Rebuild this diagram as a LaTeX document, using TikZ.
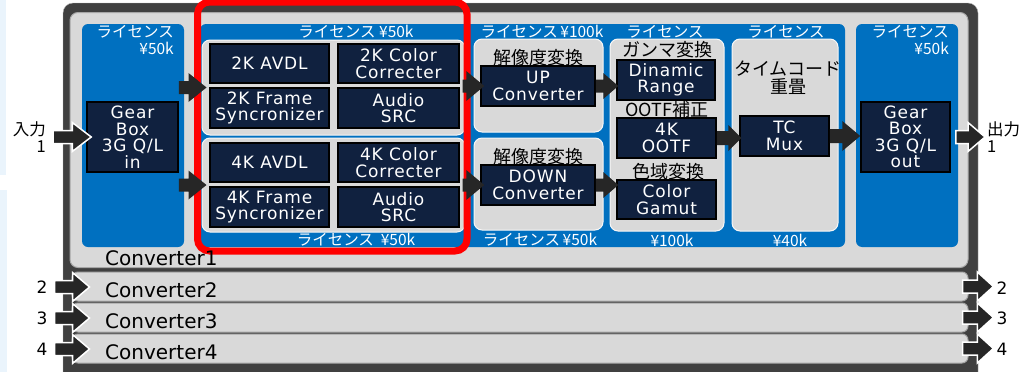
\documentclass[tikz,border=0pt]{standalone}
\usepackage{fontspec}
\setmainfont{DejaVu Sans}
\newfontfamily\boxfont{DejaVu Sans}[LetterSpace=5]
\newfontfamily\jp{Noto Sans CJK JP}
\usetikzlibrary{calc}
\definecolor{framec}{HTML}{404040}
\definecolor{panelc}{HTML}{D9D9D9}
\definecolor{edgec}{HTML}{A6A6A6}
\definecolor{bluec}{HTML}{0070C0}
\definecolor{navyc}{HTML}{10213F}
\definecolor{arrowc}{HTML}{262626}
\definecolor{stripc}{HTML}{EAF4FC}
\tikzset{
  navy/.style={draw=black, line width=1.5pt, fill=navyc, text=white, align=center, inner sep=0pt,
     font=\boxfont\fontsize{17}{16.5}\selectfont},
  grp/.style={fill=panelc, draw=white!80!panelc, line width=1pt, rounded corners=8pt, inner sep=0pt},
  bluep/.style={fill=bluec, rounded corners=6pt, inner sep=0pt},
  lic/.style={text=white, inner sep=0pt, font=\jp\fontsize{15.5}{17}\selectfont},
  plab/.style={inner sep=0pt, align=center, font=\jp\fontsize{18}{18}\selectfont},
  convlab/.style={inner sep=0pt, anchor=west, font=\fontsize{20}{20}\selectfont},
  numlab/.style={inner sep=0pt, font=\fontsize{17}{17}\selectfont},
  bar/.style={fill=panelc, draw=edgec, line width=1pt, rounded corners=6pt, inner sep=0pt},
  blk/.style n args={3}{to path={let \p1=(\tikztostart), \p2=(\tikztotarget) in
     (\x1,{\y1+#1}) -- ({\x2-#3},{\y1+#1}) -- ({\x2-#3},{\y1+#2}) -- (\x2,\y1)
     -- ({\x2-#3},{\y1-#2}) -- ({\x2-#3},{\y1-#1}) -- (\x1,{\y1-#1}) -- cycle}},
  arr/.style={fill=arrowc, draw=none},
  ioarr/.style={fill=arrowc, draw=white, line width=1.5pt, line join=miter},
}
\begin{document}
\begin{tikzpicture}[x=1pt,y=-1pt]
\useasboundingbox (0,0) rectangle (1036,372);
\clip (0,0) rectangle (1036,372);
\fill[stripc] (0,0) rectangle (6,175);
\fill[stripc] (0,190) rectangle (7,372);
% outer frame
\draw[fill=framec, draw=gray!60, rounded corners=10pt] (63,3) rectangle (978,400);
% converter bars
\node[bar, minimum width=896, minimum height=29] (conv2) at (520,286.5) {};
\node[bar, minimum width=896, minimum height=29] (conv3) at (520,317.5) {};
\node[bar, minimum width=896, minimum height=29] (conv4) at (520,348.5) {};
\node[bar, rounded corners=8pt, minimum width=898, minimum height=255] (conv1) at (519,140) {};
% blue panels
\node[bluep, minimum width=102, minimum height=223] (bluein) at (133,135.5) {};
\node[bluep, minimum width=645, minimum height=223] (bluemid) at (522.5,135.5) {};
\node[bluep, minimum width=102, minimum height=223] (blueout) at (907,135.5) {};
% grey groups
\node[grp, minimum width=263, minimum height=95] (g2k) at (333.5,87.5) {};
\node[grp, minimum width=263, minimum height=94] (g4k) at (333.5,185) {};
\node[grp, minimum width=129, minimum height=93] (gup) at (538.5,85.5) {};
\node[grp, minimum width=129, minimum height=92] (gdown) at (538.5,184) {};
\node[grp, minimum width=114, minimum height=192] (ggam) at (667,135) {};
\node[grp, minimum width=106, minimum height=192] (gtc) at (785,135) {};
% navy boxes
\node[navy, minimum width=91, minimum height=70] (gin) at (132.5,137) {Gear\\Box\\3G Q/L\\in};
\node[navy, minimum width=119, minimum height=39] (avdl2) at (269.5,63.5) {2K AVDL};
\node[navy, minimum width=121, minimum height=39] (cc2) at (398.5,63.5) {2K Color\\Correcter};
\node[navy, minimum width=119, minimum height=40] (fs2) at (269.5,108) {2K Frame\\Syncronizer};
\node[navy, minimum width=121, minimum height=40] (src2) at (398.5,108) {Audio\\SRC};
\node[navy, minimum width=119, minimum height=39] (avdl4) at (269.5,162.5) {4K AVDL};
\node[navy, minimum width=121, minimum height=39] (cc4) at (398.5,162.5) {4K Color\\Correcter};
\node[navy, minimum width=119, minimum height=40] (fs4) at (269.5,207) {4K Frame\\Syncronizer};
\node[navy, minimum width=121, minimum height=40] (src4) at (398.5,207) {Audio\\SRC};
\node[navy, minimum width=114, minimum height=40] (up) at (538,86) {UP\\Converter};
\node[navy, minimum width=114, minimum height=40] (down) at (538,185) {DOWN\\Converter};
\node[navy, minimum width=98, minimum height=40] (dr) at (666,80) {Dinamic\\Range};
\node[navy, minimum width=99, minimum height=40] (ootf) at (666.5,138) {4K\\OOTF};
\node[navy, minimum width=99, minimum height=39] (cg) at (666.5,199.5) {Color\\Gamut};
\node[navy, minimum width=89, minimum height=40] (tc) at (784.5,136) {TC\\Mux};
\node[navy, minimum width=89, minimum height=70] (gout) at (905.5,137) {Gear\\Box\\3G Q/L\\out};
% red highlight
\draw[red, line width=7pt, rounded corners=12pt] (197.5,2) rectangle (467,251);
% labels on blue
\node[lic, align=right, anchor=east] (licin) at (174,40.5) {ライセンス\\¥50k};
\node[lic, align=right, anchor=east] (licout) at (949,40.5) {ライセンス\\¥50k};
\node[lic] (lic2kt) at (356,32) {ライセンス ¥50k};
\node[lic] (licupt) at (542,32) {ライセンス\,¥100k};
\node[lic] (licgamt) at (665,32) {ライセンス};
\node[lic] (lictct) at (786,32) {ライセンス};
\node[lic] (lic2kb) at (356,240) {ライセンス\ \ ¥50k};
\node[lic] (licdnb) at (540,240) {ライセンス\,¥50k};
\node[lic] (licgamb) at (672,240) {¥100k};
\node[lic] (lictcb) at (790,240) {¥40k};
% panel labels
\node[plab] (lup) at (538,58) {解像度変換};
\node[plab] (ldown) at (538,157) {解像度変換};
\node[plab] (lgam) at (667,50) {ガンマ変換};
\node[plab] (looft) at (667,110) {OOTF補正};
\node[plab] (lcg) at (668,172) {色域変換};
\node[plab] (ltc) at (788,78) {タイムコード\\重畳};
% converter labels
\node[convlab] (c1lab) at (105,258) {Converter1};
\node[convlab] (c2lab) at (105,290) {Converter2};
\node[convlab] (c3lab) at (105,321) {Converter3};
\node[convlab] (c4lab) at (105,352) {Converter4};
% io labels
\node[inner sep=0pt, align=right, anchor=east, font=\jp\fontsize{16.5}{17}\selectfont] (inlab) at (46,137) {入力\\1};
\node[inner sep=0pt, align=left, anchor=west, font=\jp\fontsize{16.5}{17}\selectfont] (outlab) at (987,137) {出力\\1};
\node[numlab] (n2l) at (42,287) {2};
\node[numlab] (n3l) at (42,318) {3};
\node[numlab] (n4l) at (42,349) {4};
\node[numlab] (n2r) at (1002,288) {2};
\node[numlab] (n3r) at (1002,318) {3};
\node[numlab] (n4r) at (1002,349) {4};
% internal arrows
\draw[arr] (gin.east |- g2k.west) to[blk={6.5}{14.5}{18}] ([xshift=5pt]g2k.west);
\draw[arr] (gin.east |- g4k.west) to[blk={6.5}{14.5}{18}] ([xshift=5pt]g4k.west);
\draw[arr] ([xshift=-3pt]g2k.east |- up.west) to[blk={6.5}{15}{18}] ([xshift=4pt]up.west);
\draw[arr] ([xshift=-3pt]g4k.east |- down.west) to[blk={6.5}{15}{18}] ([xshift=4pt]down.west);
\draw[arr] (up.east) to[blk={6.5}{13}{15}] ([xshift=2pt]dr.west);
\draw[arr] (down.east) to[blk={6.5}{13}{15}] ([xshift=2pt]cg.west);
\draw[arr] (ootf.east) to[blk={7}{13}{13}] ([xshift=2pt]tc.west);
\draw[arr] (tc.east) to[blk={7}{15}{18}] (gout.west);
% io arrows
\draw[ioarr] ([xshift=7pt]inlab.east) to[blk={6.5}{14.5}{19}] ([xshift=5pt]gin.west);
\draw[ioarr] ([xshift=5pt]gout.east) to[blk={6.5}{14.5}{17}] ([xshift=-2pt]outlab.west);
\draw[ioarr] ([xshift=7pt]n2l.east) to[blk={6.5}{14.5}{17}] ([xshift=18pt]conv2.west);
\draw[ioarr] ([xshift=7pt]n3l.east) to[blk={6.5}{14.5}{17}] ([xshift=18pt]conv3.west);
\draw[ioarr] ([xshift=7pt]n4l.east) to[blk={6.5}{14.5}{17}] ([xshift=18pt]conv4.west);
\draw[ioarr] ([xshift=-6pt]conv2.east) to[blk={6.5}{14.5}{16}] ([xshift=-3pt]n2r.west);
\draw[ioarr] ([xshift=-6pt]conv3.east) to[blk={6.5}{14.5}{16}] ([xshift=-3pt]n3r.west);
\draw[ioarr] ([xshift=-6pt]conv4.east) to[blk={6.5}{14.5}{16}] ([xshift=-3pt]n4r.west);
\end{tikzpicture}
\end{document}
